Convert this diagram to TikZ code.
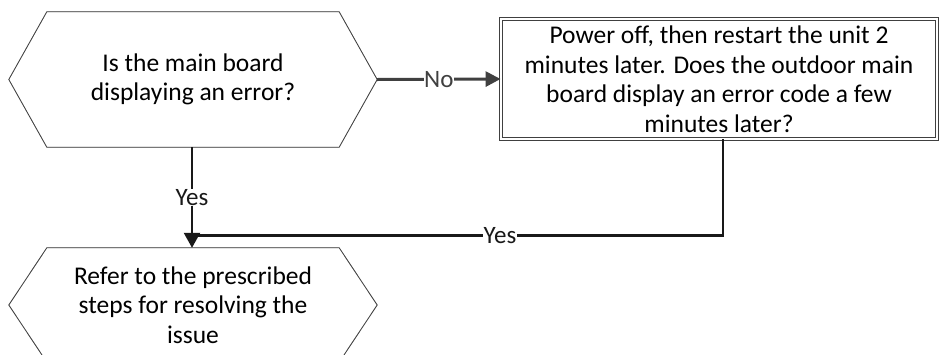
\documentclass[tikz,border=0pt]{standalone}
\usepackage{fontspec}
\setmainfont{Carlito}
\usetikzlibrary{calc,arrows.meta}
\begin{document}
\begin{tikzpicture}[x=1pt,y=-1pt,
  txt/.style={align=center,font=\fontsize{25.5}{29.5}\selectfont,inner sep=0pt},
  hexbox/.style={txt,minimum width=368pt,minimum height=#1},
  boxnode/.style={txt,draw=black!75,double=white,double distance=2pt,line width=0.9pt,minimum width=436pt,minimum height=120pt},
  lbl/.style={fill=white,font=\fontsize{25}{28}\selectfont,inner sep=0.5pt},
  conn/.style={line width=2.4pt,black!90},
  tip/.style={-{Triangle[length=15pt,width=16pt]}}
]
\useasboundingbox (0,0) rectangle (940,354);
\newcommand{\hexdraw}[2]{%
  \draw[black!20,line width=0.8pt,shift={(3,3)}] (#1.west) -- ($(#1.north west)+(38,0)$) -- ($(#1.north east)+(-38,0)$) -- (#1.east) -- ($(#1.south east)+(-38,0)$) -- ($(#1.south west)+(38,0)$) -- cycle;
  \draw[black!75,line width=0.8pt] (#1.west) -- ($(#1.north west)+(38,0)$) -- ($(#1.north east)+(-38,0)$) -- (#1.east) -- ($(#1.south east)+(-38,0)$) -- ($(#1.south west)+(38,0)$) -- cycle;}
\node[hexbox=135pt] (q1) at (193,79.5) {Is the main board\\displaying an error?};
\hexdraw{q1}{}
\node[boxnode] (q2) at (719,79) {Power off, then restart the unit 2\\minutes later. Does the outdoor main\\board display an error code a few\\minutes later?};
\node[hexbox=114pt] (r1) at (193,305) {Refer to the prescribed\\steps for resolving the\\issue};
\hexdraw{r1}{}
\draw[line width=3pt,black!75,-{Triangle[length=15pt,width=15pt]}] (q1.east) -- node[lbl]{No} (q2.west);
\coordinate (q1b) at ($(q1.south)+(-1,0)$);
\coordinate (r1t) at ($(r1.north)+(-1,0)$);
\draw[conn,tip] (q1b) -- node[lbl,pos=0.5]{Yes} (r1t);
\coordinate (q2b) at ($(q2.south)+(4,0)$);
\coordinate (corner) at ($(q2b)+(0,96)$);
\coordinate (join) at ($(r1t)+(0,-12)$);
\draw[conn] (q2b) -- (corner) -- node[lbl,pos=0.42]{Yes} (corner -| join) -- (join);
\end{tikzpicture}
\end{document}
